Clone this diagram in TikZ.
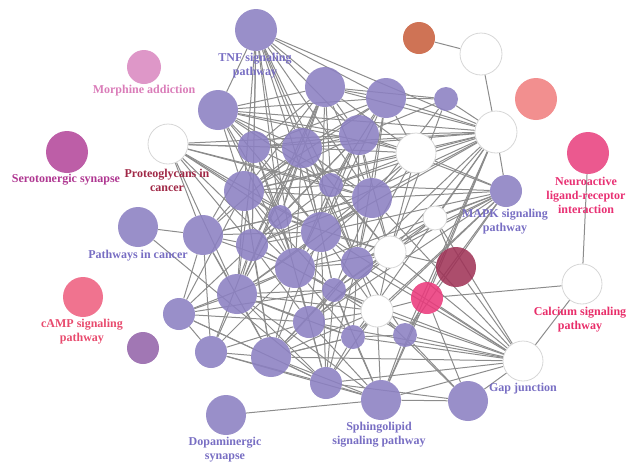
\documentclass[tikz,border=0pt]{standalone}
\usepackage{fontspec}
\setmainfont{Liberation Serif}
\usetikzlibrary{backgrounds}
\definecolor{nodepurple}{RGB}{139,128,194}
\definecolor{morphc}{RGB}{218,137,192}
\definecolor{seroc}{RGB}{180,72,155}
\definecolor{neuroc}{RGB}{232,66,128}
\definecolor{salmonc}{RGB}{240,128,128}
\definecolor{brownc}{RGB}{200,96,62}
\definecolor{dredc}{RGB}{160,52,88}
\definecolor{pinkcc}{RGB}{234,58,124}
\definecolor{campc}{RGB}{238,96,128}
\definecolor{violetc}{RGB}{148,100,170}
\definecolor{lpurple}{RGB}{120,110,195}
\definecolor{lmorph}{RGB}{218,125,185}
\definecolor{lsero}{RGB}{175,55,145}
\definecolor{lproteo}{RGB}{160,40,70}
\definecolor{lcamp}{RGB}{232,75,110}
\definecolor{lcal}{RGB}{232,45,105}
\definecolor{lneuro}{RGB}{232,48,115}
\definecolor{edgegray}{RGB}{140,140,140}
\definecolor{wborder}{RGB}{215,215,215}
\begin{document}
\begin{tikzpicture}[x=0.75pt,y=-0.75pt,
  nd/.style={circle,inner sep=0pt,draw=none,fill opacity=0.88},
  pu/.style={nd,fill=nodepurple},
  wh/.style={circle,inner sep=0pt,draw=wborder,line width=0.6pt,fill=white},
  s21/.style={minimum size=31.5pt},
  s20/.style={minimum size=30pt},
  s17/.style={minimum size=25.5pt},
  s16/.style={minimum size=24pt},
  s12/.style={minimum size=18pt},
  edge/.style={draw=edgegray,line width=0.75pt},
  lbl/.style={inner sep=0pt,align=center,font=\fontsize{9}{10.5}\selectfont\bfseries}]
\useasboundingbox (0,0) rectangle (640,469);
\node[pu,s21] (tnf) at (256,30) {};
\node[nd,s17,fill=morphc] (morph) at (144,67) {};
\node[pu,s20] (a) at (218,110) {};
\node[wh,s20] (proteo) at (168,144) {};
\node[nd,s21,fill=seroc] (sero) at (67,152) {};
\node[pu,s16] (b) at (254,147) {};
\node[pu,s20] (c) at (302,148) {};
\node[pu,s20] (d) at (325,87) {};
\node[pu,s20] (e) at (386,98) {};
\node[pu,s12] (f) at (446,99) {};
\node[pu,s20] (g) at (359,135) {};
\node[wh,s20] (w1) at (416,153) {};
\node[pu,s20] (h) at (244,191) {};
\node[pu,s12] (i) at (280,217) {};
\node[pu,s12] (j) at (331,185) {};
\node[pu,s20] (k) at (372,198) {};
\node[pu,s20] (pc) at (138,227) {};
\node[pu,s20] (l) at (203,235) {};
\node[pu,s16] (m) at (252,245) {};
\node[pu,s20] (n) at (321,232) {};
\node[pu,s20] (o) at (295,268) {};
\node[wh,s16] (w2) at (390,252) {};
\node[pu,s16] (p) at (357,263) {};
\node[pu,s12] (q) at (334,290) {};
\node[pu,s20] (r) at (237,294) {};
\node[pu,s16] (s) at (179,314) {};
\node[pu,s16] (t) at (309,322) {};
\node[wh,s16] (w3) at (377,311) {};
\node[pu,s12] (u) at (353,337) {};
\node[pu,s12] (v) at (405,335) {};
\node[pu,s16] (x) at (211,352) {};
\node[pu,s20] (y) at (271,357) {};
\node[pu,s16] (z) at (326,383) {};
\node[pu,s20] (dopa) at (226,415) {};
\node[pu,s20] (sph) at (381,400) {};
\node[pu,s20] (gp) at (468,401) {};
\node[wh,s20] (gap) at (523,361) {};
\node[wh,s20] (cal) at (582,284) {};
\node[nd,s21,fill=neuroc] (neuro) at (588,153) {};
\node[nd,s21,fill=salmonc] (salmon) at (536,99) {};
\node[nd,s16,fill=brownc] (brown) at (419,38) {};
\node[wh,s21] (wtr) at (481,54) {};
\node[wh,s21] (w4) at (496,132) {};
\node[pu,s16] (mapk) at (506,191) {};
\node[wh,s12] (wsm) at (435,218) {};
\node[nd,s20,fill=dredc] (dred) at (456,267) {};
\node[nd,s16,fill=pinkcc] (pinkc) at (427,298) {};
\node[nd,s20,fill=campc] (camp) at (83,297) {};
\node[nd,s16,fill=violetc] (violet) at (143,348) {};
\begin{pgfonlayer}{background}
\foreach \sr/\ts in {
  tnf/{a,b,c,d,g,h,j,k,n,i,m,w4,e,o,p},
  a/{b,c,d,e,g,h,j,k,n,w1,w4,i,o},
  d/{b,c,e,g,h,j,k,n,w1,w4,f,m,i,r},
  e/{c,g,w1,f,w4,k,j,n,h,b,p},
  f/{w4,g,w2,k},
  g/{b,c,w1,w4,h,j,k,n,m,w2,o,i,p,mapk},
  w1/{c,k,j,n,w4,w2,p,h,mapk},
  proteo/{b,c,h,i,m,n,j,o,l,r,g,k},
  b/{c,h,l,m,n,j,o,r,i},
  c/{h,i,j,k,n,m,o,w2,l,r,p,q,w4},
  h/{l,m,n,i,o,r,s,j,k,q,y},
  i/{l,m,n,o,r,k,w2,t},
  j/{n,k,o,m,w2,p,w4,mapk},
  k/{n,w2,p,o,q,w4,mapk,gap,m,r},
  pc/{l,z},
  l/{m,r,s,n,o,x,y,i},
  m/{n,o,r,s,x,y,t,q},
  n/{o,w2,p,q,r,t,w3,y,z,mapk,w4,gap},
  o/{p,q,r,s,t,w3,y,x,z,u,w2},
  w2/{p,q,w3,mapk,w4,gap,dred,t},
  p/{q,t,w3,u,v,gap,mapk,w4,y,z},
  q/{t,w3,u,v,y,z,gap,sph,r},
  r/{s,t,x,y,z,u,sph,w3},
  s/{x,y,t,z,q},
  t/{w3,u,y,z,sph,gap,x},
  w3/{u,v,sph,gap,y,z,gp,pinkc},
  u/{v,sph,z,gap,y},
  v/{sph,gp,gap,pinkc},
  x/{y,z,sph},
  y/{z,sph,gap,u},
  z/{sph,gap,gp},
  sph/{gp,dopa,pinkc,gap},
  gp/{gap,pinkc},
  pinkc/{cal,gap,mapk},
  dred/{wsm,gap},
  mapk/{w4,wsm,u,w3,v,t,o},
  wsm/{w4,p,t,q,gap},
  w4/{wtr,b,h,m,v,sph,pinkc,u},
  gap/{cal},
  brown/{wtr},
  neuro/{cal}}
  { \foreach \tg in \ts { \draw[edge] (\sr) -- (\tg); } }
\end{pgfonlayer}
\node[lbl,text=lpurple] (ltnf) at (255,66) {TNF signaling\\pathway};
\node[lbl,text=lmorph] (lmorph) at (144,91) {Morphine addiction};
\node[lbl,text=lsero] (lsero) at (66,180) {Serotonergic synapse};
\node[lbl,text=lproteo] (lproteo) at (167,180) {Proteoglycans in\\cancer};
\node[lbl,text=lpurple] (lpc) at (138,256) {Pathways in cancer};
\node[lbl,text=lcamp] (lcamp) at (82,332) {cAMP signaling\\pathway};
\node[lbl,text=lpurple] (ldopa) at (225,450) {Dopaminergic\\synapse};
\node[lbl,text=lpurple] (lsph) at (379,435) {Sphingolipid\\signaling pathway};
\node[lbl,text=lpurple] (lgap) at (523,389) {Gap junction};
\node[lbl,text=lcal] (lcal) at (580,320) {Calcium signaling\\pathway};
\node[lbl,text=lneuro] (lneuro) at (586,195) {Neuroactive\\ligand-receptor\\interaction};
\node[lbl,text=lpurple] (lmapk) at (505,222) {MAPK signaling\\pathway};
\end{tikzpicture}
\end{document}
